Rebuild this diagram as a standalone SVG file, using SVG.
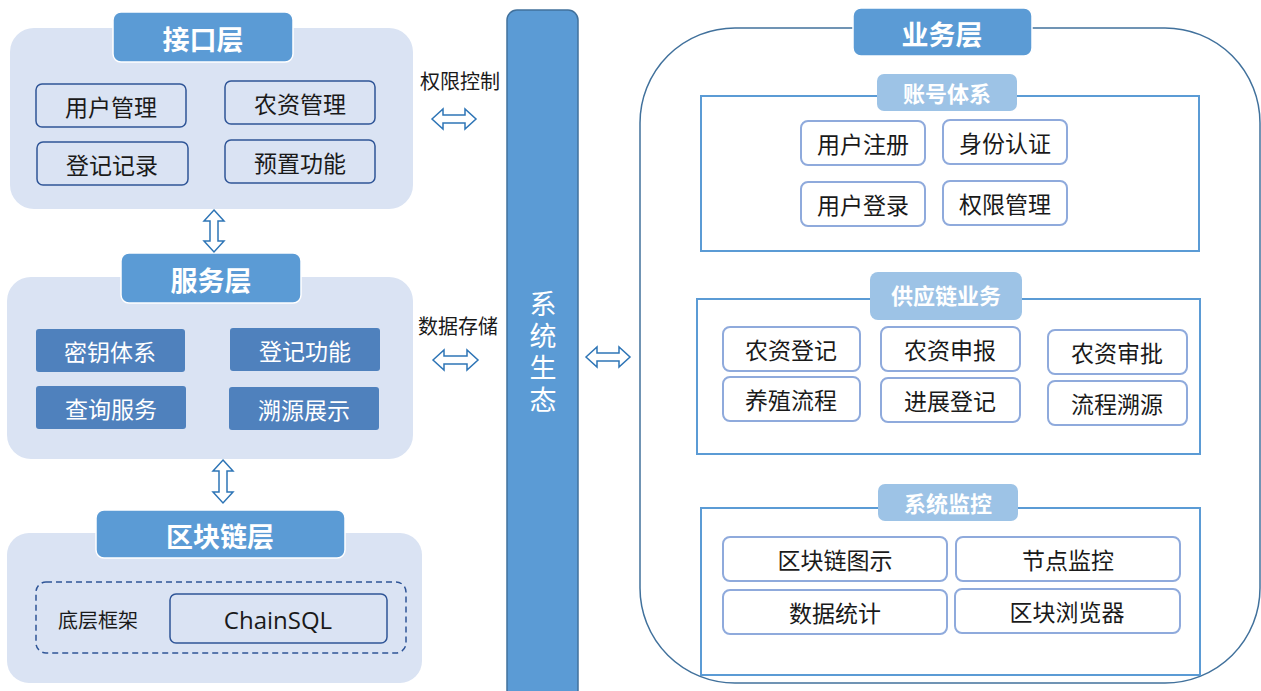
<svg xmlns="http://www.w3.org/2000/svg" width="1261" height="691" viewBox="0 0 1261 691">
<defs>
<style>
text{font-family:"Noto Sans CJK SC","Microsoft YaHei",sans-serif;dominant-baseline:central;text-anchor:middle}
.panel{fill:#dae3f3}
.title{fill:#5b9bd5;stroke:#ffffff;stroke-width:1.5}
.ttl{font-size:27px;font-weight:bold;fill:#ffffff}
.ibox{fill:none;stroke:#2f5597;stroke-width:1.5}
.sbox{fill:#4f81bd}
.btxt{font-size:23px;fill:#1a1a1a}
.wtxt{font-size:23px;fill:#ffffff}
.grp{fill:#ffffff;stroke:#5b9bd5;stroke-width:2}
.pill{fill:#9dc3e6}
.ptxt{font-size:22px;font-weight:bold;fill:#ffffff}
.rbox{fill:#ffffff;stroke:#8faadc;stroke-width:2}
.arr{fill:#ffffff;stroke:#2e75b6;stroke-width:1.5}
.lbl{font-size:20px;fill:#1a1a1a}
.vt{font-size:27px;fill:#ffffff;writing-mode:vertical-rl;text-anchor:start;letter-spacing:5px}
</style>
</defs>

<g id="interface-layer">
<rect class="panel" x="10" y="28" width="403" height="181" rx="24"/>
<rect class="title" x="113" y="12" width="180" height="50" rx="8"/>
<text class="ttl" x="203" y="38">接口层</text>
<rect class="ibox" x="36" y="84" width="150" height="43" rx="6"/><text class="btxt" x="111" y="106">用户管理</text>
<rect class="ibox" x="225" y="81" width="150" height="43" rx="6"/><text class="btxt" x="300" y="103">农资管理</text>
<rect class="ibox" x="37" y="142" width="151" height="43" rx="6"/><text class="btxt" x="112" y="164">登记记录</text>
<rect class="ibox" x="225" y="140" width="150" height="43" rx="6"/><text class="btxt" x="300" y="162">预置功能</text>
</g>

<g id="service-layer">
<rect class="panel" x="7" y="277" width="406" height="182" rx="24"/>
<rect class="title" x="121" y="253" width="180" height="50" rx="8"/>
<text class="ttl" x="211" y="279">服务层</text>
<rect class="sbox" x="36" y="329" width="149" height="43" rx="3"/><text class="wtxt" x="110" y="351">密钥体系</text>
<rect class="sbox" x="230" y="328" width="150" height="43" rx="3"/><text class="wtxt" x="305" y="350">登记功能</text>
<rect class="sbox" x="36" y="386" width="150" height="43" rx="3"/><text class="wtxt" x="111" y="408">查询服务</text>
<rect class="sbox" x="229" y="387" width="150" height="43" rx="3"/><text class="wtxt" x="304" y="409">溯源展示</text>
</g>

<g id="blockchain-layer">
<rect class="panel" x="7" y="533" width="415" height="150" rx="22"/>
<rect class="title" x="96" y="510" width="249" height="48" rx="8"/>
<text class="ttl" x="220" y="535">区块链层</text>
<rect x="36" y="582" width="370" height="71" rx="10" fill="none" stroke="#2f5597" stroke-width="1.5" stroke-dasharray="6,4"/>
<text class="lbl" x="98" y="619">底层框架</text>
<rect class="ibox" x="170" y="594" width="217" height="49" rx="6"/>
<text x="278" y="619" style="font-family:'Open Sans','Noto Sans',sans-serif;font-size:24px;fill:#1a1a1a">ChainSQL</text>
</g>

<g id="ecosystem">
<rect x="507" y="10" width="71" height="690" rx="10" fill="#5b9bd5" stroke="#41719c" stroke-width="1.5"/>
<text class="vt" x="543" y="290">系统生态</text>
</g>

<g id="business-layer">
<rect x="640" y="28" width="620" height="655" rx="95" fill="#ffffff" stroke="#41719c" stroke-width="1.5"/>
<rect class="title" x="853" y="8" width="179" height="48" rx="8"/>
<text class="ttl" x="942" y="33">业务层</text>

<g id="account">
<rect class="grp" x="701" y="96" width="498" height="155"/>
<rect class="pill" x="877" y="74" width="140" height="37" rx="7"/>
<text class="ptxt" x="947" y="92">账号体系</text>
<rect class="rbox" x="801" y="121" width="124" height="44" rx="7"/><text class="btxt" x="863" y="143">用户注册</text>
<rect class="rbox" x="943" y="120" width="124" height="44" rx="7"/><text class="btxt" x="1005" y="142">身份认证</text>
<rect class="rbox" x="801" y="182" width="124" height="44" rx="7"/><text class="btxt" x="863" y="204">用户登录</text>
<rect class="rbox" x="943" y="181" width="124" height="44" rx="7"/><text class="btxt" x="1005" y="203">权限管理</text>
</g>

<g id="supply-chain">
<rect class="grp" x="697" y="299" width="503" height="155"/>
<rect class="pill" x="870" y="272" width="152" height="48" rx="8"/>
<text class="ptxt" x="946" y="294">供应链业务</text>
<rect class="rbox" x="723" y="327" width="137" height="44" rx="7"/><text class="btxt" x="791" y="349">农资登记</text>
<rect class="rbox" x="881" y="327" width="139" height="44" rx="7"/><text class="btxt" x="950" y="349">农资申报</text>
<rect class="rbox" x="1048" y="330" width="139" height="44" rx="7"/><text class="btxt" x="1117" y="352">农资审批</text>
<rect class="rbox" x="723" y="377" width="137" height="44" rx="7"/><text class="btxt" x="791" y="399">养殖流程</text>
<rect class="rbox" x="881" y="378" width="139" height="44" rx="7"/><text class="btxt" x="950" y="400">进展登记</text>
<rect class="rbox" x="1048" y="381" width="139" height="44" rx="7"/><text class="btxt" x="1117" y="403">流程溯源</text>
</g>

<g id="monitor">
<rect class="grp" x="701" y="508" width="499" height="167"/>
<rect class="pill" x="878" y="484" width="140" height="37" rx="7"/>
<text class="ptxt" x="948" y="502">系统监控</text>
<rect class="rbox" x="723" y="537" width="224" height="44" rx="7"/><text class="btxt" x="835" y="559">区块链图示</text>
<rect class="rbox" x="956" y="537" width="224" height="44" rx="7"/><text class="btxt" x="1068" y="559">节点监控</text>
<rect class="rbox" x="723" y="590" width="224" height="44" rx="7"/><text class="btxt" x="835" y="612">数据统计</text>
<rect class="rbox" x="955" y="589" width="225" height="44" rx="7"/><text class="btxt" x="1067" y="611">区块浏览器</text>
</g>
</g>

<g id="connectors">
<text class="lbl" x="460" y="80">权限控制</text>
<text class="lbl" x="458" y="325">数据存储</text>
<path class="arr" d="M432 119 L443 109 L443 115 L465 115 L465 109 L476 119 L465 129 L465 123 L443 123 L443 129 Z"/>
<path class="arr" d="M433 360 L444 350 L444 356 L467 356 L467 350 L478 360 L467 370 L467 364 L444 364 L444 370 Z"/>
<path class="arr" d="M586 357 L597 347 L597 353 L619 353 L619 347 L630 357 L619 367 L619 361 L597 361 L597 367 Z"/>
<path class="arr" d="M214 210 L224 221 L218 221 L218 241 L224 241 L214 252 L204 241 L210 241 L210 221 L204 221 Z"/>
<path class="arr" d="M223 460 L233 471 L227 471 L227 492 L233 492 L223 503 L213 492 L219 492 L219 471 L213 471 Z"/>
</g>
</svg>
